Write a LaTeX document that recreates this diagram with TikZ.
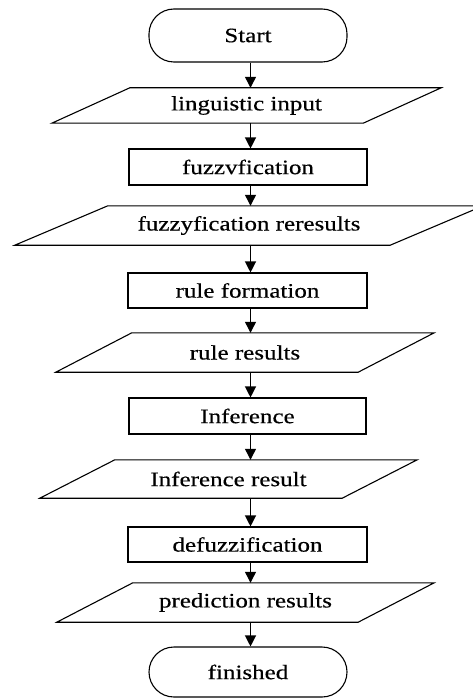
\documentclass[tikz,border=0pt]{standalone}
\usepackage{fontspec}
\setmainfont{Liberation Serif}[FakeStretch=1.22,FakeBold=0.4]
\usetikzlibrary{arrows.meta}
\tikzset{term node/.style={draw,line width=1.1pt,rounded corners=25pt,minimum width=198pt,inner sep=0pt},
  proc node/.style={draw,line width=1.1pt,minimum height=36pt,inner sep=0pt},
  io node/.style={minimum height=39pt,inner sep=0pt},
  flow/.style={-{Triangle[length=11pt,width=11pt]},line width=1.2pt},}

\begin{document}
\begin{tikzpicture}[x=1pt,y=-1pt,font=\fontsize{20.5}{24}\selectfont]
  \useasboundingbox (0,0) rectangle (472,698);
  \coordinate (col) at (250.5,0);

  \node[term node,minimum height=53pt] (start) at (248,35.5) {Start};
  \node[io node,minimum width=233pt,minimum height=35pt] (input) at (246.5,105.5) {linguistic input};
  \node[proc node,minimum width=238pt] (fuzz) at (248,167) {fuzzvfication};
  \node[io node,minimum width=282pt] (fuzzres) at (249,225.5) {fuzzyfication reresults};
  \node[proc node,minimum width=239pt,minimum height=35pt] (rule) at (247.5,290.5) {rule formation};
  \node[io node,minimum width=226pt] (ruleres) at (245,352.5) {rule results};
  \node[proc node,minimum width=237pt] (infer) at (247.5,416) {Inference};
  \node[io node,minimum width=227pt,minimum height=38pt] (inferres) at (228.5,479) {Inference result};
  \node[proc node,minimum width=239pt,minimum height=35pt] (defuzz) at (247.5,544.5) {defuzzification};
  \node[io node,minimum width=225pt] (predres) at (245.5,602.5) {prediction results};
  \node[term node,minimum height=50pt] (finish) at (248,672) {finished};

  % slanted data boxes
  \foreach \n/\s in {input/78,fuzzres/93,ruleres/76,inferres/75,predres/76}
    \draw[line width=1.1pt] (\n.north west) -- ([xshift=\s pt]\n.north east)
      -- (\n.south east) -- ([xshift=-\s pt]\n.south west) -- cycle;

  \path[flow]
    (start.south -| col) edge (input.north -| col)
    (input.south -| col) edge (fuzz.north -| col)
    (fuzz.south -| col) edge (fuzzres.north -| col)
    (fuzzres.south -| col) edge (rule.north -| col)
    (rule.south -| col) edge (ruleres.north -| col)
    (ruleres.south -| col) edge (infer.north -| col)
    (infer.south -| col) edge (inferres.north -| col)
    (inferres.south -| col) edge (defuzz.north -| col)
    (defuzz.south -| col) edge (predres.north -| col)
    (predres.south -| col) edge (finish.north -| col);
\end{tikzpicture}
\end{document}
